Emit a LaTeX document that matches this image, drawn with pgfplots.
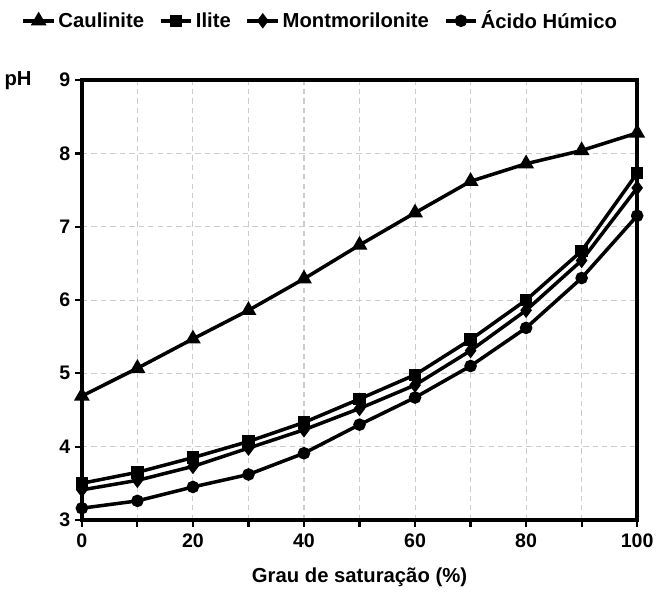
\documentclass[border=0pt]{standalone}
\usepackage{pgfplots}
\pgfplotsset{compat=1.18}
\usepackage{fontspec}
\setmainfont{Liberation Sans}
\begin{document}
\begin{tikzpicture}
\begin{axis}[
    scale only axis,
    width=411pt, height=325.5pt,
    xmin=0, xmax=100, ymin=3, ymax=9,
    xtick={0,10,...,100},
    xticklabels={0,,20,,40,,60,,80,,100},
    ytick={3,4,...,9},
    tick align=outside,
    xtick pos=bottom, ytick pos=left,
    major tick length=5pt,
    tick style={black, line width=1.6pt},
    axis line style={line width=2.5pt},
    grid=major,
    major grid style={dash pattern=on 4pt off 3pt, gray!40, line width=0.8pt},
    font=\fontsize{15}{17}\selectfont\bfseries,
    /pgf/number format/assume math mode=true,
    tick label style={font=\fontsize{14.5}{17}\selectfont\bfseries},
    xticklabel style={yshift=-2pt},
    xlabel={Grau de saturação (\%)},
    xlabel style={yshift=-8pt},
    ylabel={pH},
    ylabel style={rotate=-90, at={(rel axis cs:-0.115,1)}, anchor=center},
    legend columns=4,
    legend style={draw=none, at={(rel axis cs:0.43,1.135)}, anchor=center,
        inner ysep=6pt,
        font=\fontsize{15}{17}\selectfont\bfseries,
        /tikz/every even column/.append style={column sep=9pt}},
    legend image code/.code={
        \draw[mark repeat=2,mark phase=2] plot coordinates {(0cm,0cm) (0.4cm,0cm) (0.8cm,0cm)};},
    every axis plot/.append style={black, line width=2.6pt, mark options={solid}},
]
\addplot[mark=triangle*, mark size=4.2pt] coordinates {
    (0,4.69) (10,5.07) (20,5.47) (30,5.86) (40,6.29) (50,6.75)
    (60,7.19) (70,7.62) (80,7.86) (90,8.04) (100,8.28)};
\addlegendentry{Caulinite}
\addplot[mark=square*, mark size=3.3pt] coordinates {
    (0,3.5) (10,3.65) (20,3.85) (30,4.07) (40,4.33) (50,4.65)
    (60,4.98) (70,5.46) (80,6.0) (90,6.67) (100,7.73)};
\addlegendentry{Ilite}
\addplot[mark=diamond*, mark size=3.6pt] coordinates {
    (0,3.41) (10,3.54) (20,3.73) (30,3.98) (40,4.23) (50,4.52)
    (60,4.84) (70,5.31) (80,5.86) (90,6.54) (100,7.53)};
\addlegendentry{Montmorilonite}
\addplot[mark=*, mark size=3.3pt] coordinates {
    (0,3.16) (10,3.26) (20,3.45) (30,3.62) (40,3.91) (50,4.3)
    (60,4.67) (70,5.1) (80,5.62) (90,6.3) (100,7.15)};
\addlegendentry{Ácido Húmico}
\end{axis}
\end{tikzpicture}
\end{document}
